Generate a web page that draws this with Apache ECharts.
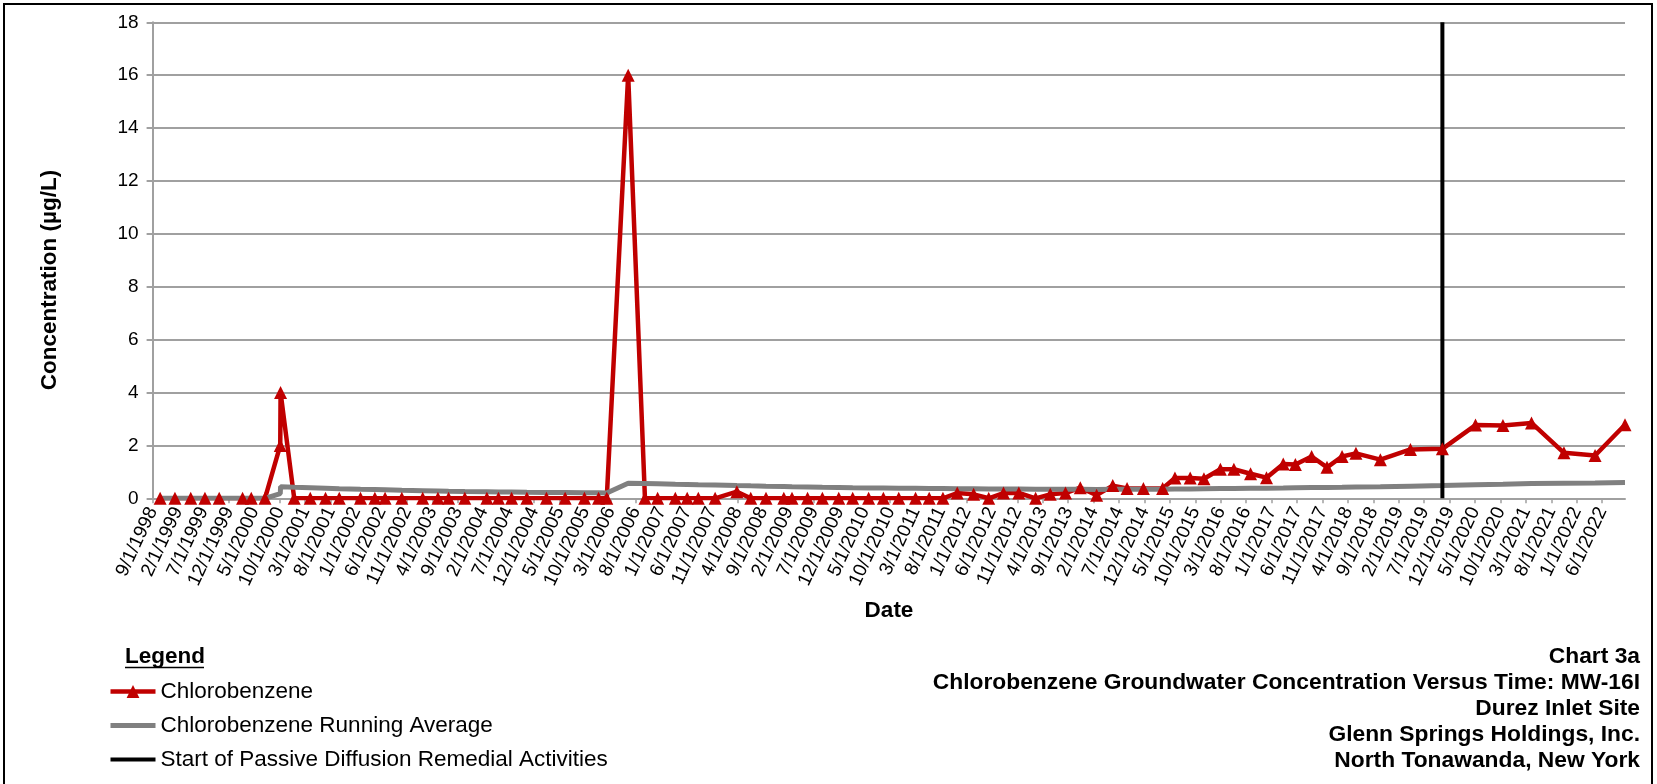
<!DOCTYPE html>
<html>
<head>
<meta charset="utf-8">
<script src="https://cdn.jsdelivr.net/npm/echarts@6/dist/echarts.min.js"></script>
<style>
  html, body { margin: 0; padding: 0; background: #fff; }
  #chart { width: 1657px; height: 784px; }
</style>
</head>
<body>
<div id="chart"></div>
<script>
// ---------------- DATA ----------------
const sampleDates = [
  '1998-10-16','1999-01-13','1999-04-16','1999-07-10','1999-10-04','2000-02-21','2000-04-13','2000-07-04',
  '2000-10-04','2000-10-06','2000-12-27','2001-04-01','2001-07-01','2001-09-22','2002-01-28','2002-04-22',
  '2002-06-22','2002-10-01','2003-02-04','2003-05-04','2003-07-07','2003-10-13','2004-02-22','2004-05-01',
  '2004-07-19','2004-10-19','2005-02-13','2005-06-04','2005-09-28','2005-12-22','2006-02-09','2006-06-16',
  '2006-09-25','2006-12-10','2007-03-25','2007-06-04','2007-08-10','2007-11-19','2008-03-28','2008-06-19',
  '2008-09-19','2009-01-04','2009-02-21','2009-05-25','2009-08-22','2009-11-28','2010-02-19','2010-05-25',
  '2010-08-22','2010-11-22','2011-03-01','2011-05-22','2011-08-13','2011-11-07','2012-02-13','2012-05-13',
  '2012-08-10','2012-11-10','2013-02-18','2013-05-16','2013-08-16','2013-11-13','2014-02-18','2014-05-25',
  '2014-08-19','2014-11-25','2015-03-19','2015-06-01','2015-09-01','2015-11-22','2016-02-28','2016-05-19',
  '2016-08-28','2016-12-01','2017-03-10','2017-05-22','2017-08-28','2017-11-28','2018-02-25','2018-05-19',
  '2018-10-13','2019-04-10','2019-10-19','2020-05-04','2020-10-16','2021-04-04','2021-10-16','2022-04-19',
  '2022-10-16'
];
const chlorobenzene = [
  0,0,0,0,0,0,0,0,
  2,4,0,0,0,0,0,0,
  0,0,0,0,0,0,0,0,
  0,0,0,0,0,0,0,16,
  0,0,0,0,0,0,0.25,0,
  0,0,0,0,0,0,0,0,
  0,0,0,0,0,0.2,0.15,0,
  0.2,0.2,0,0.15,0.2,0.4,0.12,0.48,
  0.37,0.37,0.37,0.77,0.77,0.74,1.1,1.1,
  0.93,0.78,1.3,1.28,1.58,1.17,1.58,1.7,
  1.46,1.85,1.87,2.77,2.75,2.85,1.72,1.62,
  2.78
];
const runningAverage = [
  0,0,0,0,0,0,0,0,
  0.18,0.44,0.42,0.40,0.38,0.36,0.34,0.33,
  0.32,0.30,0.29,0.28,0.27,0.26,0.25,0.24,
  0.24,0.23,0.22,0.22,0.21,0.21,0.20,0.57,
  0.56,0.55,0.53,0.52,0.51,0.50,0.48,0.47,
  0.46,0.45,0.44,0.43,0.42,0.41,0.40,0.39,
  0.39,0.38,0.38,0.37,0.37,0.36,0.36,0.35,
  0.35,0.35,0.34,0.34,0.34,0.34,0.33,0.34,
  0.34,0.34,0.34,0.35,0.35,0.36,0.37,0.37,
  0.38,0.38,0.39,0.40,0.41,0.41,0.42,0.43,
  0.44,0.46,0.48,0.51,0.53,0.56,0.57,0.58,
  0.60
];
const remedialStartDate = '2019-10-19';
const axisStartDate = '1998-09-01';
const axisEndDate = '2022-10-16';
const monthsPerTick = 5;
const yMin = 0, yMax = 18, yStep = 2;
const seriesNames = ['Chlorobenzene', 'Chlorobenzene Running Average', 'Start of Passive Diffusion Remedial Activities'];
const titleLines = [
  'Chart 3a',
  'Chlorobenzene Groundwater Concentration Versus Time: MW-16I',
  'Durez Inlet Site',
  'Glenn Springs Holdings, Inc.',
  'North Tonawanda, New York'
];

// ---------------- HELPERS ----------------
const FONT = '"Liberation Sans", Arial, sans-serif';
const start = axisStartDate.split('-').map(Number);
function monthIndex(s) {
  const [y, m, d] = s.split('-').map(Number);
  const dim = new Date(y, m, 0).getDate();
  return (y - start[0]) * 12 + (m - start[1]) + (d - 1) / dim;
}
function tickLabel(v) {
  const r = Math.round(v);
  if (Math.abs(v - r) > 1e-6 || r % monthsPerTick !== 0) return '';
  const total = (start[0] * 12 + (start[1] - 1)) + r;
  const y = Math.floor(total / 12), m = total % 12 + 1;
  return m + '/1/' + y;
}

const cbData = sampleDates.map((d, i) => [monthIndex(d), chlorobenzene[i]]);
const avgData = sampleDates.map((d, i) => [monthIndex(d), runningAverage[i]]);
const remX = monthIndex(remedialStartDate);
const remData = [[remX, yMin], [remX, yMax]];

const chart = echarts.init(document.getElementById('chart'), null, { renderer: 'canvas' });

const graphics = [
  { type: 'rect', shape: { x: 4, y: 4, width: 1648, height: 830 },
    style: { fill: 'none', stroke: '#000', lineWidth: 2 }, z: 100 },
  { type: 'text', x: 50, y: 280, rotation: Math.PI / 2,
    style: { text: 'Concentration (µg/L)', font: 'bold 22.5px ' + FONT, fill: '#000', align: 'center', verticalAlign: 'middle' } },
  { type: 'text', x: 889, y: 611,
    style: { text: 'Date', font: 'bold 22.5px ' + FONT, fill: '#000', align: 'center', verticalAlign: 'middle' } },
  { type: 'text', x: 125, y: 657,
    style: { text: 'Legend', font: 'bold 22.5px ' + FONT, fill: '#000', align: 'left', verticalAlign: 'middle' } },
  { type: 'line', shape: { x1: 125, y1: 667.5, x2: 204, y2: 667.5 }, style: { stroke: '#000', lineWidth: 1.6 } }
];
titleLines.forEach((t, i) => {
  graphics.push({ type: 'text', x: 1640, y: 657 + i * 26,
    style: { text: t, font: 'bold 22.8px ' + FONT, fill: '#000', align: 'right', verticalAlign: 'middle' } });
});

const option = {
  animation: false,
  backgroundColor: '#fff',
  grid: { left: 152.6, right: 32, top: 22.3, bottom: 285.7, containLabel: false },
  legend: {
    orient: 'vertical', left: 108, top: 680, padding: 0, itemGap: 11,
    itemWidth: 45, itemHeight: 16, selectedMode: false,
    textStyle: { fontSize: 22.5, color: '#000', fontFamily: FONT },
    data: [
      { name: seriesNames[0], lineStyle: { width: 4.5 } },
      { name: seriesNames[1], lineStyle: { width: 5 }, itemStyle: { opacity: 0 } },
      { name: seriesNames[2], lineStyle: { width: 4 }, itemStyle: { opacity: 0 } }
    ]
  },
  xAxis: {
    type: 'value', min: 0, max: monthIndex(axisEndDate), interval: monthsPerTick,
    splitLine: { show: false },
    axisLine: { lineStyle: { color: '#a0a0a0', width: 2 } },
    axisTick: { show: true, length: 5, lineStyle: { color: '#a0a0a0', width: 1.5 } },
    axisLabel: { rotate: 65, margin: 10, color: '#000', fontSize: 19, fontFamily: FONT,
      formatter: tickLabel, showMaxLabel: false, hideOverlap: false }
  },
  yAxis: {
    type: 'value', min: yMin, max: yMax, interval: yStep,
    axisLine: { show: true, lineStyle: { color: '#a0a0a0', width: 2 } },
    axisTick: { show: true, length: 6, lineStyle: { color: '#a0a0a0', width: 2 } },
    splitLine: { show: true, lineStyle: { color: '#a0a0a0', width: 2 } },
    axisLabel: { margin: 14, color: '#000', fontSize: 19, fontFamily: FONT }
  },
  series: [
    { name: seriesNames[0], type: 'line', data: cbData, symbol: 'triangle', symbolSize: 13,
      showSymbol: true, showAllSymbol: true,
      lineStyle: { color: '#C00000', width: 4.5 }, itemStyle: { color: '#C00000' } },
    { name: seriesNames[1], type: 'line', data: avgData, symbol: 'none', showSymbol: false,
      lineStyle: { color: '#808080', width: 5 }, itemStyle: { color: '#808080' } },
    { name: seriesNames[2], type: 'line', data: remData, symbol: 'none', showSymbol: false,
      lineStyle: { color: '#000', width: 4 }, itemStyle: { color: '#000' } }
  ],
  graphic: graphics
};
chart.setOption(option);
</script>
</body>
</html>
